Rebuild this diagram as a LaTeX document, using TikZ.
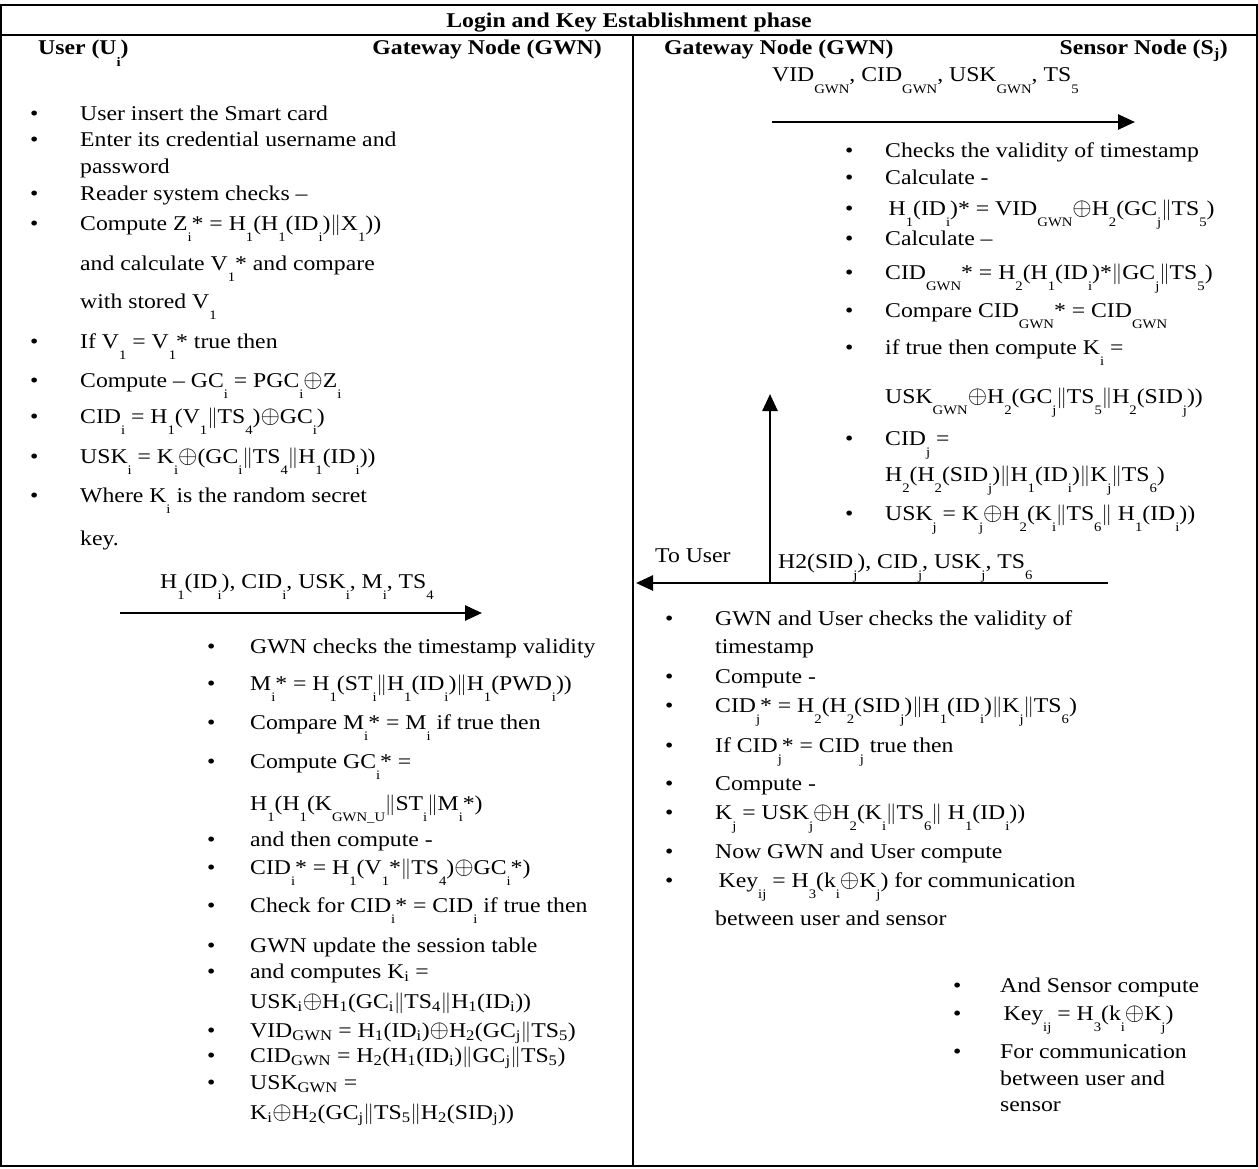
\documentclass[tikz,border=0pt]{standalone}
\usepackage{fontspec}
\setmainfont{Liberation Serif}[FakeStretch=1.13]
\usepackage{tikz}
\usetikzlibrary{arrows.meta, positioning}

\newcommand{\lo}[1]{\raisebox{-0.55em}{\fontsize{13}{13}\selectfont #1}}
\newcommand{\ls}[1]{\textsubscript{#1}}
\newcommand{\cat}{$\|$}
\newcommand{\xo}{{\fontsize{24}{24}\selectfont$\oplus$}}

\begin{document}
\begin{tikzpicture}[
		x=1pt, y=-1pt,
		every node/.style={font=\fontsize{21}{25}\selectfont, inner sep=0pt},
		txt/.style={anchor=base west},
		bul/.style={anchor=base west},
		hdr/.style={font=\fontsize{21}{25}\selectfont\bfseries},
		msg/.style={anchor=base west},
		frame/.style={line width=1.6pt},
		arrow/.style={
			line width=2.6pt,
			-{Triangle[length=17pt,width=15pt]}
		}
		]
		
		% Frame
		\useasboundingbox (0,0) rectangle (1258,1169);
		\draw[frame] (1,5) rectangle (1257,1166);
		\draw[frame] (1,35) -- (1257,35);
		\draw[frame] (633,35) -- (633,1166);
		
		% Headings
		\node[hdr, anchor=base] (title) at (629,28) {Login and Key Establishment phase};
		\node[hdr, anchor=base west] (user) at (38,55) {User (U\lo{i})};
		\node[hdr, anchor=base east] (gwnL) at (602,55) {Gateway Node (GWN)};
		\node[hdr, anchor=base west] (gwnR) at (664,55) {Gateway Node (GWN)};
		\node[hdr, anchor=base east] (sensor) at (1228,55) {Sensor Node (S\ls{j})};
		
		% User side
		\foreach \y/\b/\t [count=\k] in {
			121/\textbullet/{User insert the Smart card},
			147/\textbullet/{Enter its credential username and},
			174//{password},
			201/\textbullet/{Reader system checks –},
			230/\textbullet/{Compute Z\lo{i}* = H\lo{1}(H\lo{1}(ID\lo{i})\cat X\lo{1}))},
			270//{and calculate V\lo{1}* and compare},
			308//{with stored V\lo{1}},
			348/\textbullet/{If V\lo{1} = V\lo{1}* true then},
			387/\textbullet/{Compute – GC\lo{i} = PGC\lo{i}\xo Z\lo{i}},
			423/\textbullet/{CID\lo{i} = H\lo{1}(V\lo{1}\cat TS\lo{4})\xo GC\lo{i})},
			463/\textbullet/{USK\lo{i} = K\lo{i}\xo(GC\lo{i}\cat TS\lo{4}\cat H\lo{1}(ID\lo{i}))},
			502/\textbullet/{Where K\lo{i} is the random secret},
			545//{key.}}
		{
			\node[bul] (ub\k) at (30,\y) {\b};
			\node[txt] (u\k) at (80,\y) {\t};
		}
		
		% GWN checks the user
		\foreach \y/\b/\t [count=\k] in {
			653/\textbullet/{GWN checks the timestamp validity},
			690/\textbullet/{M\lo{i}* = H\lo{1}(ST\lo{i}\cat H\lo{1}(ID\lo{i})\cat H\lo{1}(PWD\lo{i}))},
			729/\textbullet/{Compare M\lo{i}* = M\lo{i} if true then},
			768/\textbullet/{Compute GC\lo{i}* =},
			810//{H\lo{1}(H\lo{1}(K\lo{GWN\_U}\cat ST\lo{i}\cat M\lo{i}*)},
			846/\textbullet/{and then compute -},
			874/\textbullet/{CID\lo{i}* = H\lo{1}(V\lo{1}*\cat TS\lo{4})\xo GC\lo{i}*)},
			912/\textbullet/{Check for CID\lo{i}* = CID\lo{i} if true then},
			952/\textbullet/{GWN update the session table},
			978/\textbullet/{and computes K\ls{i} =},
			1008//{USK\ls{i}\xo H\ls{1}(GC\ls{i}\cat TS\ls{4}\cat H\ls{1}(ID\ls{i}))},
			1037/\textbullet/{VID\ls{GWN} = H\ls{1}(ID\ls{i})\xo H\ls{2}(GC\ls{j}\cat TS\ls{5})},
			1062/\textbullet/{CID\ls{GWN} = H\ls{2}(H\ls{1}(ID\ls{i})\cat GC\ls{j}\cat TS\ls{5})},
			1089/\textbullet/{USK\ls{GWN} =},
			1119//{K\ls{i}\xo H\ls{2}(GC\ls{j}\cat TS\ls{5}\cat H\ls{2}(SID\ls{j}))}}
		{
			\node[bul] (gb\k) at (207,\y) {\b};
			\node[txt] (g\k) at (250,\y) {\t};
		}
		
		% Sensor side
		\foreach \y/\b/\t [count=\k] in {
			158/\textbullet/{Checks the validity of timestamp},
			185/\textbullet/{Calculate -},
			215/\textbullet/{\,H\lo{1}(ID\lo{i})* = VID\lo{GWN}\xo H\lo{2}(GC\lo{j}\cat TS\lo{5})},
			245/\textbullet/{Calculate –},
			279/\textbullet/{CID\lo{GWN}* = H\lo{2}(H\lo{1}(ID\lo{i})*\cat GC\lo{j}\cat TS\lo{5})},
			317/\textbullet/{Compare CID\lo{GWN}* = CID\lo{GWN}},
			354/\textbullet/{if true then compute K\lo{i} =},
			403//{USK\lo{GWN}\xo H\lo{2}(GC\lo{j}\cat TS\lo{5}\cat H\lo{2}(SID\lo{j}))},
			445/\textbullet/{CID\lo{j} =},
			481//{H\lo{2}(H\lo{2}(SID\lo{j})\cat H\lo{1}(ID\lo{i})\cat K\lo{j}\cat TS\lo{6})},
			520/\textbullet/{USK\lo{j} = K\lo{j}\xo H\lo{2}(K\lo{i}\cat TS\lo{6}\cat\ H\lo{1}(ID\lo{i}))}}
		{
			\node[bul] (sb\k) at (845,\y) {\b};
			\node[txt] (s\k) at (885,\y) {\t};
		}
		
		% Back at GWN and user
		\foreach \y/\b/\t [count=\k] in {
			625/\textbullet/{GWN and User checks the validity of},
			653//{timestamp},
			683/\textbullet/{Compute -},
			712/\textbullet/{CID\lo{j}* = H\lo{2}(H\lo{2}(SID\lo{j})\cat H\lo{1}(ID\lo{i})\cat K\lo{j}\cat TS\lo{6})},
			752/\textbullet/{If CID\lo{j}* = CID\lo{j} true then},
			790/\textbullet/{Compute -},
			819/\textbullet/{K\lo{j} = USK\lo{j}\xo H\lo{2}(K\lo{i}\cat TS\lo{6}\cat\ H\lo{1}(ID\lo{i}))},
			858/\textbullet/{Now GWN and User compute},
			887/\textbullet/{\,Key\lo{ij} = H\lo{3}(k\lo{i}\xo K\lo{j}) for communication},
			925//{between user and sensor}}
		{
			\node[bul] (kb\k) at (665,\y) {\b};
			\node[txt] (k\k) at (715,\y) {\t};
		}
		
		% Sensor key
		\foreach \y/\b/\t [count=\k] in {
			992/\textbullet/{And Sensor compute},
			1020/\textbullet/{\,Key\lo{ij} = H\lo{3}(k\lo{i}\xo K\lo{j})},
			1058/\textbullet/{For communication},
			1085//{between user and},
			1111//{sensor}}
		{
			\node[bul] (eb\k) at (953,\y) {\b};
			\node[txt] (e\k) at (1000,\y) {\t};
		}
		
		% Messages
		\coordinate (m1a) at (120,613);
		\coordinate (m1b) at (482,613);
		\draw[arrow] (m1a) -- (m1b);
		\node[msg] (msg1) at (160,588) {H\lo{1}(ID\lo{i}), CID\lo{i}, USK\lo{i}, M\lo{i}, TS\lo{4}};
		
		\coordinate (m2a) at (772,122);
		\coordinate (m2b) at (1135,122);
		\draw[arrow] (m2a) -- (m2b);
		\node[msg] (msg2) at (772,82) {VID\lo{GWN}, CID\lo{GWN}, USK\lo{GWN}, TS\lo{5}};
		
		\coordinate (m3a) at (1108,583);
		\coordinate (m3b) at (636,583);
		\coordinate (m4b) at (770,394);
		\draw[arrow] (m3a) -- (m3b);
		\draw[arrow] (m3a -| m4b) -- (m4b);
		\node[msg] (msg3) at (778,568) {H2(SID\lo{j}), CID\lo{j}, USK\lo{j}, TS\lo{6}};
		\node[msg] (touser) at (655,562) {To User};
	\end{tikzpicture}
\end{document}
